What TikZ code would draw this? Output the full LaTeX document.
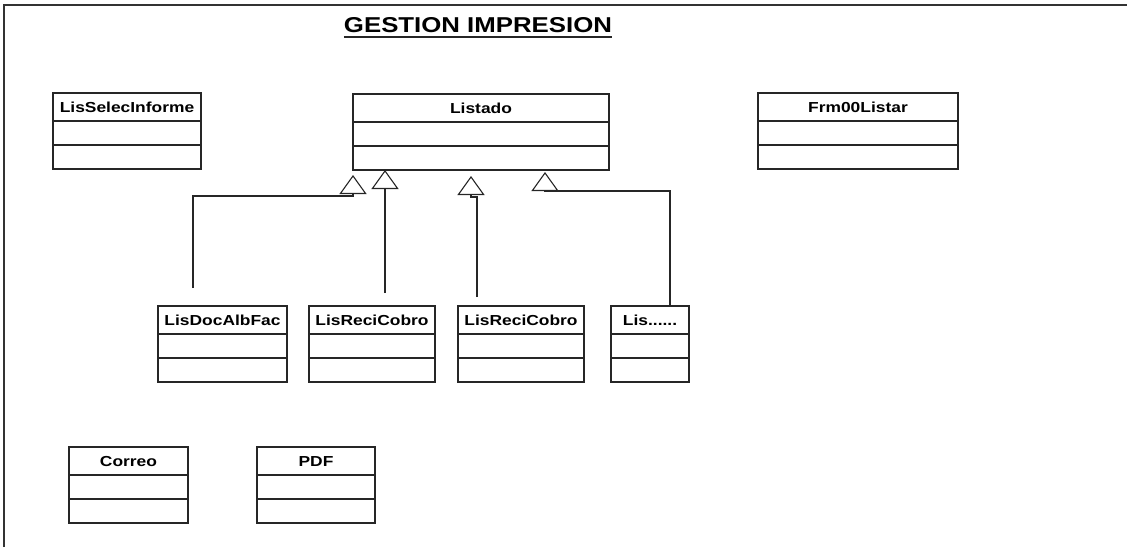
\documentclass[tikz,border=0pt]{standalone}
\usepackage{fontspec}
\setmainfont[FakeStretch=1.2]{Liberation Sans}
\usetikzlibrary{arrows.meta,positioning}

\tikzset{
  clase/.style={draw=black!85, line width=1.2pt, inner sep=0pt, outer sep=0pt,
    minimum height=28, text height=10.5pt, text depth=0pt, anchor=north west,
    font=\bfseries\fontsize{14.5}{14.5}\selectfont},
  hueco/.style={draw=black!85, line width=1.2pt, inner sep=0pt, outer sep=0pt,
    minimum height=24, below=0pt of #1},
  hereda/.style={draw=black!85, line width=1.1pt,
    -{Triangle[open, length=19pt, width=27pt]}}
}

\begin{document}
\begin{tikzpicture}[x=1pt, y=-1pt]
\useasboundingbox (0,0) rectangle (1127,547);
\draw[black!80, line width=2.2pt] (4,547) -- (4,5) -- (1127,5);

% titulo
\node[inner sep=0pt, font=\bfseries\fontsize{21.5}{21.5}\selectfont] (titulo) at (478,25.5) {GESTION IMPRESION};
\draw[black!85, line width=2pt] ([yshift=-4pt]titulo.south west) -- ([yshift=-4pt]titulo.south east);

% clases de arriba
\node[clase, minimum width=148] (selec) at (53,93) {LisSelecInforme};
\node[hueco=selec, minimum width=148] (selec-a) {};
\node[hueco=selec-a, minimum width=148] (selec-b) {};
\node[clase, minimum width=256] (listado) at (353,94) {Listado};
\node[hueco=listado, minimum width=256] (listado-a) {};
\node[hueco=listado-a, minimum width=256] (listado-b) {};
\node[clase, minimum width=200] (frm) at (758,93) {Frm00Listar};
\node[hueco=frm, minimum width=200] (frm-a) {};
\node[hueco=frm-a, minimum width=200] (frm-b) {};

% listados hijos
\node[clase, minimum width=129] (docalb) at (158,306) {LisDocAlbFac};
\node[hueco=docalb, minimum width=129] (docalb-a) {};
\node[hueco=docalb-a, minimum width=129] (docalb-b) {};
\node[clase, minimum width=126] (reci1) at (309,306) {LisReciCobro};
\node[hueco=reci1, minimum width=126] (reci1-a) {};
\node[hueco=reci1-a, minimum width=126] (reci1-b) {};
\node[clase, minimum width=126] (reci2) at (458,306) {LisReciCobro};
\node[hueco=reci2, minimum width=126] (reci2-a) {};
\node[hueco=reci2-a, minimum width=126] (reci2-b) {};
\node[clase, minimum width=78] (lis) at (611,306) {Lis......};
\node[hueco=lis, minimum width=78] (lis-a) {};
\node[hueco=lis-a, minimum width=78] (lis-b) {};

% abajo
\node[clase, minimum width=119] (correo) at (69,447) {Correo};
\node[hueco=correo, minimum width=119] (correo-a) {};
\node[hueco=correo-a, minimum width=119] (correo-b) {};
\node[clase, minimum width=118] (pdf) at (257,447) {PDF};
\node[hueco=pdf, minimum width=118] (pdf-a) {};
\node[hueco=pdf-a, minimum width=118] (pdf-b) {};

% herencia
\coordinate (p1) at (193,288);
\coordinate (p2) at (385,293);
\coordinate (p3) at (477,297);
\coordinate (a1) at (353,175);
\coordinate (a3) at (471,176);
\coordinate (a4) at (545,172);
\draw[hereda] (p1) |- ([yshift=-21pt]a1) -- (a1);
\draw[hereda] (p2) -- (listado-b.south -| p2);
\draw[hereda] (p3) |- ([yshift=-21pt]a3) -- (a3);
\draw[hereda] ([xshift=20pt]lis.north) |- ([yshift=-19pt]a4) -- (a4);
\end{tikzpicture}
\end{document}
